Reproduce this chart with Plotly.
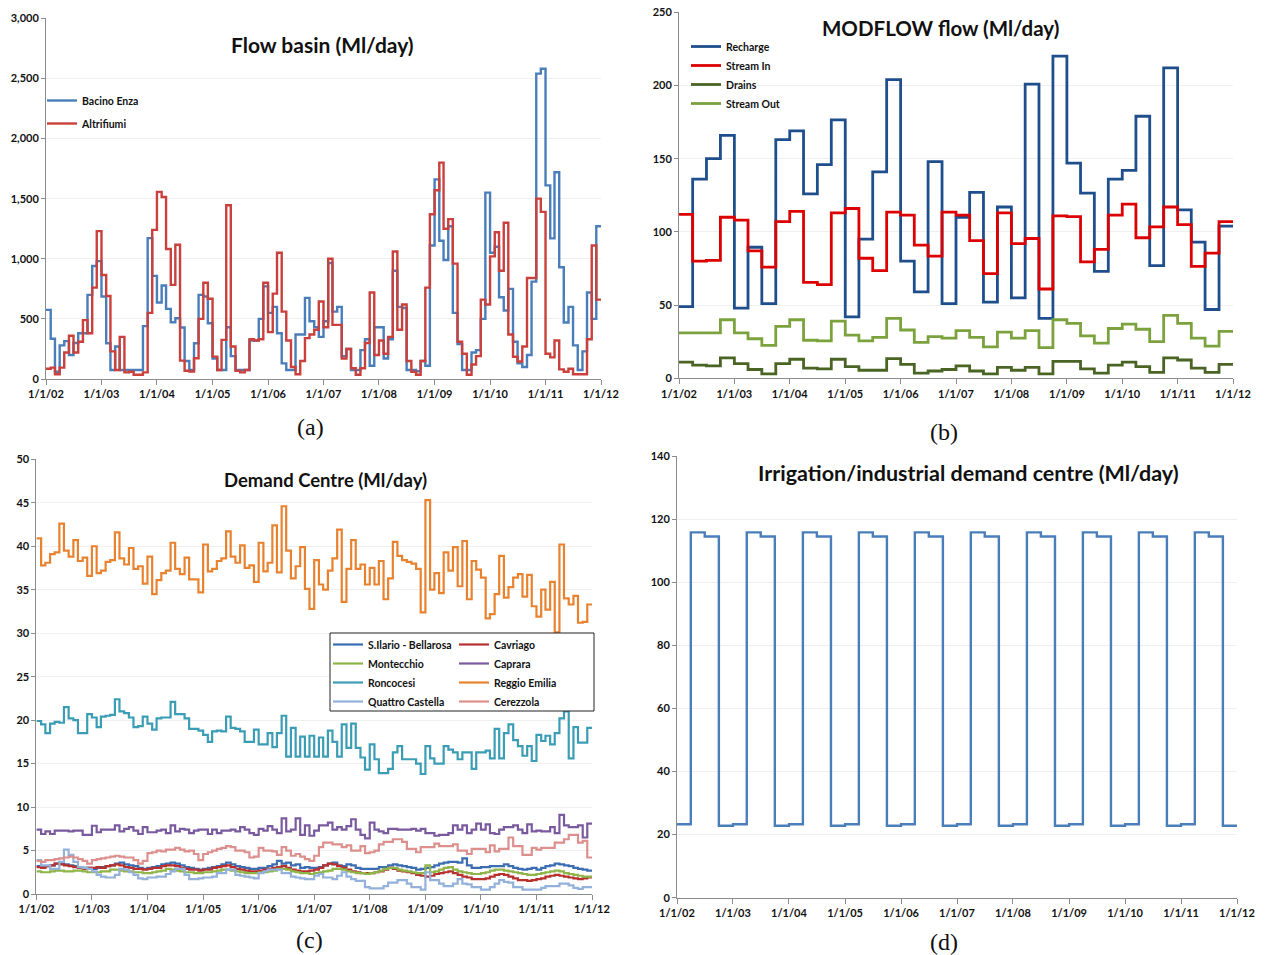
import pandas as pd
import plotly.graph_objects as go

W, H = 1266, 955

# ---------------- (a) Flow basin, monthly values (Ml/day) ----------------
bacino_enza = [
    575, 335, 60, 280, 315, 200, 300, 380, 380, 700, 940, 980,
    686, 297, 75, 270, 75, 75, 75, 75, 75, 440, 1172, 858,
    636, 778, 583, 472, 505, 428, 150, 75, 297, 700, 686, 464,
    170, 75, 75, 430, 190, 75, 75, 75, 320, 320, 500, 770,
    550, 600, 380, 130, 75, 75, 370, 370, 675, 480, 430, 350,
    480, 965, 560, 600, 190, 250, 75, 75, 240, 330, 110, 430,
    430, 170, 330, 900, 600, 590, 75, 75, 65, 150, 110, 1110,
    1660, 1150, 990, 1270, 550, 290, 75, 75, 220, 240, 500, 1550,
    1050, 1100, 680, 570, 750, 310, 130, 100, 200, 810, 2540, 2580,
    1610, 1170, 1720, 930, 470, 600, 280, 75, 230, 720, 500, 1270,
]
altrifiumi = [
    85, 95, 40, 95, 220, 360, 220, 310, 490, 380, 760, 1230,
    865, 690, 230, 75, 350, 55, 60, 35, 35, 55, 550, 1240,
    1556, 1514, 1081, 783, 1117, 153, 69, 61, 172, 500, 800, 667,
    186, 75, 325, 1445, 270, 69, 55, 75, 330, 320, 330, 800,
    390, 710, 1050, 560, 320, 100, 40, 150, 340, 370, 410, 645,
    430, 1000, 450, 450, 170, 250, 90, 35, 90, 300, 720, 200,
    320, 210, 350, 1060, 410, 620, 150, 60, 35, 150, 760, 1370,
    1570, 1800, 1250, 1330, 960, 310, 210, 35, 120, 190, 660, 620,
    1020, 1220, 900, 1300, 370, 185, 145, 270, 840, 840, 1500, 1390,
    210, 180, 320, 80, 60, 85, 40, 40, 40, 330, 1110, 660,
]

# ---------------- (b) MODFLOW flow, quarterly values (Ml/day) ----------------
recharge = [
    49, 136, 150, 166, 48, 89.5, 51, 163, 169, 126, 146, 176.5,
    42, 95, 141, 204, 80, 59, 148, 51, 110, 127, 52, 117,
    55, 201, 41, 220, 147, 126.5, 73, 136, 142, 179, 77, 212,
    115, 93, 47, 104,
]
stream_in = [
    112, 80, 80.5, 110, 108, 87, 76, 107, 114, 65.5, 64, 113,
    116, 82, 73.5, 113.5, 111.5, 91, 83.5, 113.5, 111.5, 94, 71.5, 113,
    92, 95.5, 61, 111, 110.5, 79.5, 88, 111.5, 119, 96, 103.5, 117,
    105, 76.5, 85.5, 107,
]
drains = [
    11, 9, 8.5, 14, 10, 6, 3, 10, 13, 7, 6.5, 13,
    8, 5.5, 5.5, 13.5, 9.5, 3.5, 5, 6, 8.5, 5, 3, 7.5,
    5.5, 7.5, 3, 11.5, 11.5, 6.5, 3.5, 9, 11, 8, 4, 14,
    12.5, 7, 4, 9.5,
]
stream_out = [
    31, 31, 31, 40, 31, 27, 22.5, 35.5, 40, 26, 25.5, 39,
    29.5, 25.5, 28, 41, 33, 24.5, 28.5, 27.5, 32.5, 28, 21.5, 31.5,
    27.5, 32.5, 21, 40, 37.5, 29, 24, 34, 37, 33.5, 25, 43,
    37.5, 27.5, 22, 32,
]

# ---------------- (c) Demand centres, monthly values (Ml/day) ----------------
s_ilario = [
    3.2, 3.1, 3.2, 3.3, 3.5, 3.6, 3.4, 3.3, 3.2, 3.1, 3.0, 3.0,
    2.9, 3.0, 3.1, 3.2, 3.3, 3.5, 3.6, 3.4, 3.3, 3.2, 3.0, 2.9,
    3.0, 3.1, 3.2, 3.4, 3.5, 3.6, 3.5, 3.3, 3.1, 3.0, 2.9, 2.8,
    2.9, 3.0, 3.1, 3.2, 3.4, 3.6, 3.4, 3.2, 3.1, 3.0, 2.9, 2.9,
    3.0, 3.0, 3.2, 3.4, 3.8, 3.5, 3.6, 3.3, 3.4, 3.0, 3.1, 3.0,
    3.0, 3.1, 3.3, 3.5, 3.6, 3.3, 3.2, 3.4, 3.3, 3.0, 2.9, 2.9,
    2.9, 2.9, 3.1, 3.1, 3.3, 3.4, 3.3, 3.2, 3.1, 3.0, 2.8, 2.9,
    3.0, 3.1, 3.3, 3.5, 3.6, 3.7, 3.7, 3.6, 4.1, 3.3, 3.0, 3.0,
    3.1, 3.1, 3.2, 3.2, 3.2, 3.4, 3.2, 3.0, 2.9, 2.8, 2.9, 3.0,
    2.8, 3.0, 3.2, 3.3, 3.5, 3.4, 3.3, 3.2, 3.0, 2.9, 2.8, 2.7,
]
cavriago = [
    3.1, 3.0, 3.2, 3.3, 3.5, 3.4, 3.3, 3.2, 3.1, 3.0, 2.9, 3.0,
    3.0, 3.1, 3.0, 3.2, 3.3, 3.4, 3.3, 3.1, 3.0, 2.9, 2.9, 2.8,
    2.9, 3.0, 3.0, 3.2, 3.3, 3.3, 3.2, 3.0, 2.9, 2.8, 2.8, 2.7,
    2.8, 2.8, 3.0, 3.1, 3.2, 3.3, 3.1, 2.9, 2.8, 2.7, 2.6, 2.6,
    2.7, 2.8, 2.9, 3.0, 3.1, 3.2, 3.0, 2.8, 2.7, 2.6, 2.6, 2.7,
    2.8, 3.0, 3.3, 3.5, 3.4, 3.2, 3.0, 2.8, 2.6, 2.5, 2.4, 2.4,
    2.4, 2.5, 2.6, 2.8, 3.0, 2.9, 2.7, 2.6, 2.5, 2.4, 2.2, 2.1,
    2.0, 2.1, 2.3, 2.4, 2.5, 2.6, 2.4, 2.2, 2.0, 1.9, 1.7, 1.7,
    1.7, 1.8, 2.0, 2.2, 2.3, 2.2, 2.0, 1.8, 1.6, 1.6, 1.5, 1.6,
    1.7, 1.8, 2.0, 2.1, 2.2, 2.1, 2.0, 1.9, 1.8, 1.7, 1.8, 1.9,
]
montecchio = [
    2.6, 2.5, 2.5, 2.6, 2.7, 2.7, 2.6, 2.6, 2.7, 2.7, 2.6, 2.5,
    2.5, 2.5, 2.6, 2.6, 2.8, 2.8, 2.7, 2.6, 2.6, 2.5, 2.5, 2.4,
    2.4, 2.5, 2.6, 2.7, 2.9, 2.8, 2.7, 2.6, 2.5, 2.5, 2.4, 2.4,
    2.5, 2.5, 2.6, 2.7, 2.8, 2.8, 2.7, 2.6, 2.5, 2.4, 2.4, 2.4,
    2.5, 2.5, 2.6, 2.7, 2.9, 2.9, 2.8, 2.6, 2.5, 2.4, 2.4, 2.3,
    2.4, 2.5, 2.6, 2.7, 2.9, 2.9, 2.8, 2.6, 2.5, 2.4, 2.4, 2.3,
    2.4, 2.5, 2.7, 2.9, 3.0, 3.0, 2.8, 2.7, 2.6, 2.5, 2.4, 2.4,
    3.3, 2.5, 2.6, 2.8, 3.0, 3.1, 2.8, 2.6, 2.5, 2.4, 2.3, 2.3,
    2.4, 2.5, 2.7, 2.8, 2.8, 2.7, 2.6, 2.5, 2.4, 2.3, 2.2, 2.2,
    2.3, 2.4, 2.5, 2.6, 2.7, 2.6, 2.4, 2.3, 2.2, 2.1, 2.0, 2.0,
]
caprara = [
    7.4, 6.9, 7.2, 6.9, 7.3, 7.3, 7.3, 7.2, 7.3, 7.3, 6.8, 6.8,
    7.85, 7.1, 7.4, 7.4, 7.4, 7.9, 7.2, 7.5, 7.7, 7.3, 6.9, 7.7,
    7.1, 7.1, 7.3, 7.4, 7.0, 7.9, 7.2, 7.5, 7.4, 7.0, 7.3, 7.4,
    7.4, 6.9, 7.4, 7.0, 7.3, 7.3, 7.4, 7.2, 7.7, 7.4, 7.0, 6.8,
    7.5, 7.3, 7.8, 7.4, 7.0, 8.7, 7.2, 7.4, 8.7, 6.8, 7.9, 6.7,
    7.3, 7.9, 7.9, 8.2, 7.4, 7.7, 7.4, 7.8, 8.6, 7.4, 6.8, 6.4,
    8.2, 7.4, 7.2, 7.0, 7.5, 7.5, 7.4, 7.4, 7.4, 7.5, 7.3, 7.5,
    7.0, 7.0, 6.7, 6.8, 6.8, 7.0, 7.9, 7.4, 7.9, 7.0, 7.4, 8.1,
    7.4, 8.0, 7.0, 6.9, 7.4, 7.7, 7.7, 7.9, 7.4, 7.0, 8.0, 7.2,
    7.3, 7.2, 7.2, 7.7, 7.0, 9.1, 7.9, 7.7, 7.7, 7.9, 6.5, 8.1,
]
roncocesi = [
    19.9, 19.5, 18.5, 19.6, 19.8, 19.7, 21.5, 20.2, 20.0, 18.5, 18.5, 20.7,
    20.3, 19.2, 20.4, 20.5, 20.6, 22.4, 21.0, 20.8, 20.3, 19.2, 19.3, 20.4,
    19.6, 18.9, 20.2, 20.3, 20.3, 22.1, 20.7, 20.7, 20.2, 19.0, 19.0, 18.8,
    18.3, 17.5, 18.7, 18.8, 18.7, 20.4, 19.1, 19.0, 18.7, 17.5, 17.5, 18.9,
    17.2, 17.2, 18.5, 16.9, 18.5, 20.5, 15.8, 19.1, 15.8, 18.1, 15.8, 18.2,
    15.8, 18.0, 15.8, 18.8, 17.5, 15.8, 19.5, 16.8, 19.6, 16.8, 15.7, 14.3,
    17.2, 15.5, 13.9, 13.9, 14.4, 16.3, 17.0, 15.5, 15.5, 15.5, 15.0, 13.8,
    17.0, 15.6, 15.0, 15.0, 17.0, 16.6, 16.3, 15.5, 16.3, 16.3, 14.4, 16.3,
    16.3, 16.5, 15.6, 19.0, 15.6, 18.5, 19.5, 17.7, 17.0, 15.9, 17.0, 15.3,
    18.3, 17.6, 18.2, 17.2, 18.5, 20.2, 21.0, 15.6, 19.2, 17.4, 17.4, 19.1,
]
reggio_emilia = [
    40.9, 37.8, 38.1, 39.1, 39.3, 42.6, 39.5, 38.8, 40.7, 38.3, 38.7, 36.6,
    40.0, 36.9, 37.2, 38.2, 38.4, 41.6, 38.6, 37.9, 39.8, 37.4, 37.7, 35.7,
    38.8, 34.5, 36.1, 36.9, 37.2, 40.4, 37.4, 36.8, 38.7, 36.2, 36.2, 34.7,
    40.2, 37.1, 37.4, 38.3, 38.6, 41.7, 38.8, 38.1, 40.1, 37.5, 37.8, 35.9,
    40.4, 37.1, 38.1, 42.4, 37.0, 44.6, 39.5, 36.3, 37.7, 39.9, 35.1, 32.8,
    38.4, 35.6, 35.0, 37.2, 38.6, 41.9, 33.6, 37.4, 40.7, 37.4, 37.9, 35.6,
    37.5, 35.6, 38.3, 33.9, 36.3, 40.5, 38.9, 38.4, 38.2, 38.0, 37.4, 32.4,
    45.3, 35.0, 36.9, 34.6, 39.3, 37.2, 39.9, 35.4, 40.6, 33.9, 38.3, 37.3,
    36.4, 31.7, 32.2, 34.5, 38.9, 34.1, 35.3, 36.4, 36.8, 34.2, 36.7, 33.1,
    31.9, 35.0, 32.7, 35.9, 30.1, 40.2, 34.0, 33.3, 34.3, 31.2, 31.3, 33.3,
]
quattro_castella = [
    3.9, 3.3, 3.3, 2.9, 2.9, 3.7, 5.1, 4.5, 3.7, 3.1, 3.0, 2.9,
    2.6, 2.2, 2.0, 1.9, 1.9, 2.2, 2.9, 2.8, 2.5, 2.2, 1.8, 1.7,
    1.9, 1.9, 2.0, 2.0, 2.3, 2.6, 2.9, 2.9, 2.2, 1.7, 1.7, 1.8,
    1.9, 1.9, 2.0, 2.4, 2.4, 2.8, 2.8, 2.2, 2.1, 2.0, 1.9, 1.8,
    2.4, 2.6, 2.8, 2.8, 2.8, 2.4, 2.4, 2.0, 1.9, 1.8, 1.7, 1.7,
    2.1, 2.3, 1.9, 1.9, 1.7, 2.1, 2.5, 2.0, 1.7, 1.5, 1.5, 0.8,
    0.65, 0.65, 0.65, 0.9, 1.3, 1.3, 1.6, 1.6, 1.2, 0.8, 0.8, 0.5,
    2.5, 1.6, 1.6, 1.2, 0.9, 0.9, 1.2, 1.7, 1.2, 1.1, 0.8, 0.8,
    0.5, 0.5, 0.8, 1.2, 1.6, 1.4, 1.3, 0.8, 0.8, 0.5, 0.5, 0.5,
    0.5, 0.7, 0.9, 0.9, 0.9, 1.2, 1.2, 1.0, 0.7, 0.6, 0.8, 0.8,
]
cerezzola = [
    3.8, 3.7, 3.9, 3.9, 4.0, 4.1, 4.2, 4.3, 4.2, 4.0, 3.8, 3.5,
    3.9, 4.0, 4.1, 4.2, 4.3, 4.4, 4.3, 4.2, 4.2, 3.9, 3.5, 3.8,
    4.7, 4.8, 5.0, 4.9, 5.1, 5.1, 5.3, 5.1, 4.9, 5.0, 4.6, 3.9,
    4.6, 4.8, 5.0, 5.2, 5.3, 5.5, 5.4, 5.0, 5.0, 4.8, 4.2, 4.3,
    5.3, 5.0, 5.0, 4.9, 4.5, 5.4, 5.0, 4.4, 4.6, 4.3, 4.0, 3.8,
    4.4, 5.4, 5.9, 5.9, 5.7, 5.7, 5.4, 5.6, 5.0, 5.0, 5.5, 4.7,
    4.8, 5.0, 5.7, 6.0, 6.0, 6.3, 6.3, 6.0, 5.2, 5.2, 4.8, 5.4,
    5.4, 5.4, 5.8, 5.5, 5.5, 5.5, 5.7, 5.0, 5.0, 4.6, 5.2, 5.2,
    5.2, 4.8, 5.6, 4.9, 5.2, 5.2, 6.5, 5.5, 5.5, 4.5, 4.5, 5.3,
    5.1, 5.3, 5.3, 5.3, 5.9, 5.9, 6.3, 6.8, 6.8, 5.9, 6.1, 4.2,
]

# ---------------- (d) Irrigation/industrial demand, quarterly (Ml/day) ----------------
irrigation = [
    23.3, 115.8, 114.5, 22.8, 23.3, 115.8, 114.5, 22.8,
    23.3, 115.8, 114.5, 22.8, 23.3, 115.8, 114.5, 22.8,
    23.3, 115.8, 114.5, 22.8, 23.3, 115.8, 114.5, 22.8,
    23.3, 115.8, 114.5, 22.8, 23.3, 115.8, 114.5, 22.8,
    23.3, 115.8, 114.5, 22.8, 23.3, 115.8, 114.5, 22.8,
]

END = pd.Timestamp("2012-01-01")
months = list(pd.date_range("2002-01-01", periods=120, freq="MS")) + [END]
quarters = list(pd.date_range("2002-01-01", periods=40, freq="QS")) + [END]


def stepped(values):
    # repeat the last value so the final step runs to the end of its period
    return list(values) + [values[-1]]


SANS = "Lato, 'Open Sans', sans-serif"
SERIF = "'Liberation Serif', 'DejaVu Serif', serif"
TICKFONT = dict(family=SANS, size=11, color="#111111", weight="bold")
AXCOL = "#8c8c8c"

fig = go.Figure()


def add(x, y, name, color, width, xa, ya, legend=None):
    fig.add_trace(go.Scatter(
        x=x, y=stepped(y), name=name, mode="lines",
        line=dict(color=color, width=width, shape="hv"),
        xaxis=xa, yaxis=ya,
        showlegend=legend is not None,
        legend=legend or "legend",
        legendgroup=name,
        hoverinfo="skip",
    ))


# (a)
add(months, bacino_enza, "Bacino Enza", "#4a7ebb", 2.4, "x", "y", "legend")
add(months, altrifiumi, "Altrifiumi", "#c9403c", 2.4, "x", "y", "legend")

# (b)
add(quarters, recharge, "Recharge", "#1f4e8c", 2.8, "x2", "y2", "legend2")
add(quarters, stream_in, "Stream In", "#dd0000", 2.8, "x2", "y2", "legend2")
add(quarters, drains, "Drains", "#4a6424", 2.8, "x2", "y2", "legend2")
add(quarters, stream_out, "Stream Out", "#7ba23c", 2.8, "x2", "y2", "legend2")

# (c)
add(months, s_ilario, "S.Ilario - Bellarosa", "#3b6db3", 2.2, "x3", "y3", "legend3")
add(months, cavriago, "Cavriago", "#b8302e", 2.2, "x3", "y3", "legend4")
add(months, montecchio, "Montecchio", "#8fb54a", 2.2, "x3", "y3", "legend3")
add(months, caprara, "Caprara", "#7a5a9e", 2.2, "x3", "y3", "legend4")
add(months, roncocesi, "Roncocesi", "#3a9db5", 2.2, "x3", "y3", "legend3")
add(months, reggio_emilia, "Reggio Emilia", "#e9822e", 2.2, "x3", "y3", "legend4")
add(months, quattro_castella, "Quattro Castella", "#93b1da", 2.2, "x3", "y3", "legend3")
add(months, cerezzola, "Cerezzola", "#dc8f8c", 2.2, "x3", "y3", "legend4")

# (d)
add(quarters, irrigation, "Irrigation/industrial", "#4a7ebb", 2.4, "x4", "y4")


def px_x(v):
    return v / W


def px_y(v):
    return 1 - v / H


def xaxis(domain, anchor):
    return dict(
        domain=domain, anchor=anchor, type="date",
        range=["2002-01-01", "2012-01-01"],
        tick0="2002-01-01", dtick="M12", tickformat="%-m/%-d/%y",
        showline=True, linecolor=AXCOL, linewidth=1,
        ticks="outside", ticklen=5, tickcolor=AXCOL,
        showgrid=False, zeroline=False, tickfont=TICKFONT,
        fixedrange=True, automargin=False,
    )


def yaxis(domain, anchor, top, step, fmt=""):
    return dict(
        domain=domain, anchor=anchor, range=[0, top], dtick=step,
        tickformat=fmt, showline=True, linecolor=AXCOL, linewidth=1,
        ticks="outside", ticklen=4, tickcolor=AXCOL,
        showgrid=True, gridcolor="#efefef", gridwidth=1,
        zeroline=False, tickfont=TICKFONT, fixedrange=True, automargin=False,
    )


legend_common = dict(
    bgcolor="rgba(0,0,0,0)", borderwidth=0, xanchor="left", yanchor="top",
    font=dict(family=SANS, size=10.5, color="#111111", weight="bold"),
    itemwidth=30, itemclick=False, itemdoubleclick=False,
    traceorder="normal",
)

fig.update_layout(
    width=W, height=H,
    margin=dict(l=0, r=0, t=0, b=0, autoexpand=False),
    paper_bgcolor="white", plot_bgcolor="white",
    showlegend=True,
    xaxis=xaxis([px_x(46), px_x(601)], "y"),
    yaxis=yaxis([px_y(379), px_y(18.3)], "x", 3000, 500, ","),
    xaxis2=xaxis([px_x(679), px_x(1233)], "y2"),
    yaxis2=yaxis([px_y(378.3), px_y(12.3)], "x2", 250, 50),
    xaxis3=xaxis([px_x(36.4), px_x(592)], "y3"),
    yaxis3=yaxis([px_y(894), px_y(459.3)], "x3", 50, 5),
    xaxis4=xaxis([px_x(677), px_x(1237)], "y4"),
    yaxis4=yaxis([px_y(897.7), px_y(456)], "x4", 140, 20),
    legend=dict(legend_common, x=px_x(42), y=px_y(86), tracegroupgap=4,
                traceorder="grouped"),
    legend2=dict(legend_common, x=px_x(686), y=px_y(32), tracegroupgap=0),
    legend3=dict(legend_common, x=px_x(328), y=px_y(630), tracegroupgap=0),
    legend4=dict(legend_common, x=px_x(454), y=px_y(630), tracegroupgap=0),
)

# frame around the demand-centre legend
fig.add_shape(
    type="rect", xref="paper", yref="paper",
    x0=px_x(330), x1=px_x(594), y0=px_y(711), y1=px_y(633),
    line=dict(color="#222222", width=1), fillcolor="white", layer="above",
)

titles = [
    ("Flow basin (Ml/day)", 322, 45, 21),
    ("MODFLOW flow (Ml/day)", 940, 28, 20.5),
    ("Demand Centre (Ml/day)", 325, 480, 18.5),
    ("Irrigation/industrial demand centre (Ml/day)", 968, 473, 21.5),
]
for text, cx, cy, size in titles:
    fig.add_annotation(
        text=text, x=px_x(cx), y=px_y(cy), xref="paper", yref="paper",
        showarrow=False, xanchor="center", yanchor="middle",
        font=dict(family=SANS, size=size, color="#111111", weight="bold"),
    )

panels = [("(a)", 310, 427), ("(b)", 944, 432), ("(c)", 309, 940), ("(d)", 944, 942)]
for text, cx, cy in panels:
    fig.add_annotation(
        text=text, x=px_x(cx), y=px_y(cy), xref="paper", yref="paper",
        showarrow=False, xanchor="center", yanchor="middle",
        font=dict(family=SERIF, size=24, color="#111111"),
    )

fig.write_html("out.html")
